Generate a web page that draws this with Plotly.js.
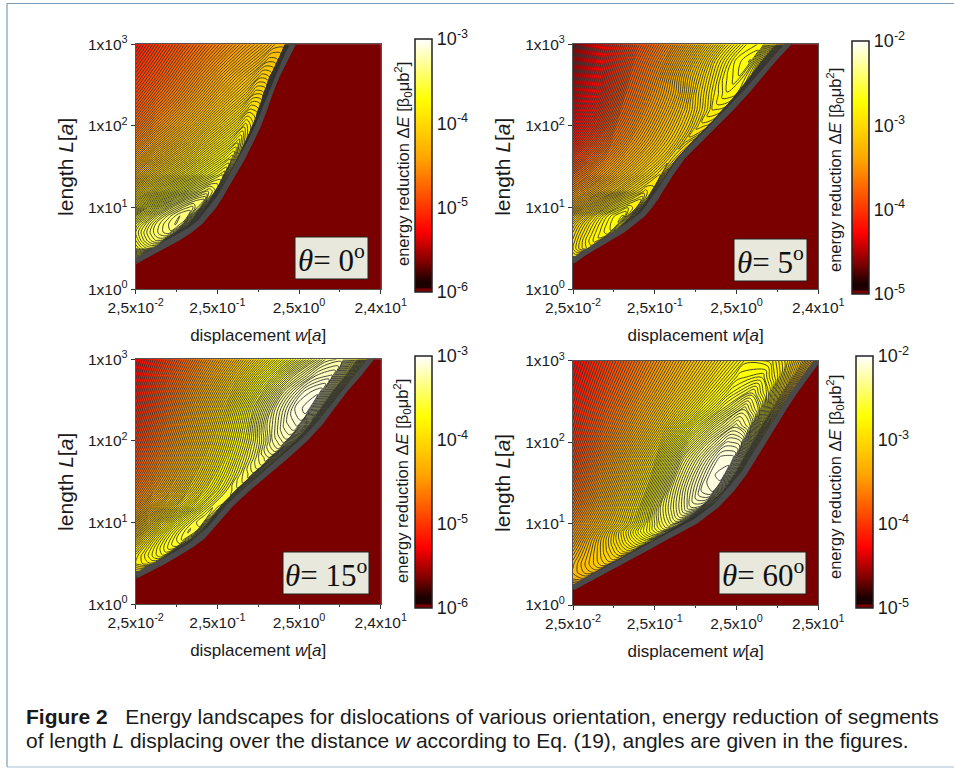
<!DOCTYPE html>
<html>
<head>
<meta charset="utf-8">
<script src="https://cdn.plot.ly/plotly-3.0.1.min.js"></script>
<style>html,body{margin:0;padding:0;background:#fff}</style>
</head>
<body>
<div id="chart" style="width:954px;height:769px"></div>
<script>
// Each table: one row per log10(L), one column per fraction of the way
// from the left border to the edge of the dark red region. Values are log10(energy reduction).
var colF = [0,0.15,0.3,0.45,0.6,0.7,0.8,0.87,0.93,0.97,1];
var colorStops = [[0,'#7a0000'],[0.012,'#7a0000'],[0.016,'#200000'],[0.04,'#1a0000'],[0.12,'#800000'],[0.24,'#ff0000'],[0.53,'#ffa500'],[0.76,'#ffff00'],[1,'#ffffff']];
var rowV = [0.32,0.4,0.5,0.6,0.7,0.8,0.9,1,1.1,1.2,1.4,1.6,1.8,2,2.2,2.4,2.6,2.8,3];
var rowV4 = [0.18,0.25,0.32,0.4,0.5,0.6,0.7,0.8,0.9,1,1.2,1.4,1.6,1.8,2,2.2,2.4,2.6,2.8,3];
var edgeU1 = [0.02,0.17,0.37,0.54,0.69,0.815,0.9,0.985,1.05,1.11,1.23,1.34,1.44,1.535,1.61,1.68,1.76,1.865,1.963];
var edgeU2 = [0.02,0.13,0.295,0.465,0.63,0.76,0.885,0.965,1.04,1.1,1.225,1.365,1.565,1.77,1.965,2.15,2.32,2.485,2.674];
var edgeU3 = [0.02,0.18,0.37,0.54,0.7,0.84,0.93,1.02,1.105,1.19,1.405,1.64,1.88,2.1,2.285,2.435,2.585,2.76,2.92];
var edgeU4 = [0.01,0.14,0.28,0.43,0.61,0.79,0.97,1.15,1.33,1.52,1.78,1.97,2.12,2.24,2.36,2.485,2.61,2.74,2.885,3.03];
var zP1 = [
[-3.95,-3.97,-3.99,-4.02,-4.06,-4.1,-4.15,-4.2,-4.25,-4.3,-4.4],
[-3.79,-3.785,-3.78,-3.835,-4.0,-4.17,-4.39,-4.58,-4.75,-4.88,-4.98],
[-3.62,-3.592,-3.569,-3.554,-3.57,-3.695,-3.934,-4.167,-4.413,-4.6,-4.75],
[-3.58,-3.529,-3.488,-3.459,-3.462,-3.576,-3.81,-4.05,-4.30,-4.49,-4.65],
[-3.56,-3.496,-3.444,-3.405,-3.385,-3.45,-3.67,-3.92,-4.19,-4.41,-4.585],
[-3.6,-3.52,-3.44,-3.39,-3.357,-3.39,-3.595,-3.847,-4.136,-4.364,-4.555],
[-3.7,-3.6,-3.49,-3.41,-3.36,-3.362,-3.54,-3.796,-4.1,-4.34,-4.55],
[-3.85,-3.7,-3.58,-3.48,-3.41,-3.39,-3.47,-3.71,-4.05,-4.34,-4.59],
[-3.95,-3.81,-3.69,-3.58,-3.49,-3.45,-3.44,-3.597,-3.957,-4.317,-4.65],
[-4.05,-3.92,-3.80,-3.69,-3.59,-3.54,-3.5,-3.531,-3.84,-4.27,-4.72],
[-4.25,-4.1,-3.98,-3.87,-3.76,-3.69,-3.63,-3.6,-3.82,-4.28,-4.8],
[-4.42,-4.26,-4.13,-4.01,-3.88,-3.80,-3.73,-3.682,-3.81,-4.29,-4.88],
[-4.57,-4.405,-4.27,-4.135,-3.99,-3.905,-3.825,-3.763,-3.85,-4.33,-4.96],
[-4.7,-4.535,-4.395,-4.25,-4.095,-4.005,-3.915,-3.845,-3.89,-4.36,-5.04],
[-4.81,-4.65,-4.505,-4.35,-4.195,-4.10,-4.01,-3.935,-3.95,-4.41,-5.13],
[-4.9,-4.75,-4.6,-4.44,-4.285,-4.19,-4.103,-4.025,-4.03,-4.47,-5.22],
[-4.98,-4.835,-4.675,-4.515,-4.36,-4.265,-4.18,-4.105,-4.12,-4.57,-5.3],
[-5.06,-4.905,-4.742,-4.585,-4.435,-4.343,-4.258,-4.187,-4.193,-4.63,-5.38],
[-5.14,-4.97,-4.806,-4.651,-4.505,-4.415,-4.332,-4.259,-4.252,-4.67,-5.45]
];
var zP2 = [
[-3.3,-3.32,-3.34,-3.37,-3.4,-3.44,-3.48,-3.52,-3.56,-3.6,-3.7],
[-3.0,-3.0,-3.0,-3.05,-3.21,-3.38,-3.6,-3.79,-3.97,-4.1,-4.2],
[-2.95,-2.917,-2.889,-2.865,-2.85,-2.914,-3.134,-3.383,-3.658,-3.872,-4.05],
[-2.97,-2.911,-2.859,-2.816,-2.785,-2.809,-3.008,-3.262,-3.554,-3.785,-3.98],
[-3.0,-2.924,-2.856,-2.797,-2.751,-2.731,-2.838,-3.086,-3.414,-3.691,-3.93],
[-3.05,-2.951,-2.863,-2.786,-2.726,-2.701,-2.814,-3.064,-3.39,-3.664,-3.9],
[-3.15,-3.03,-2.9,-2.79,-2.712,-2.696,-2.863,-3.116,-3.426,-3.678,-3.89],
[-3.3,-3.15,-3.01,-2.89,-2.797,-2.751,-2.794,-3.026,-3.369,-3.674,-3.94],
[-3.42,-3.27,-3.13,-3.0,-2.89,-2.837,-2.80,-2.925,-3.284,-3.654,-4.0],
[-3.52,-3.38,-3.25,-3.13,-3.0,-2.93,-2.865,-2.891,-3.22,-3.64,-4.06],
[-3.72,-3.58,-3.43,-3.28,-3.14,-3.05,-2.97,-2.922,-3.119,-3.587,-4.12],
[-3.95,-3.76,-3.56,-3.39,-3.23,-3.13,-3.04,-2.961,-3.018,-3.495,-4.15],
[-4.15,-3.91,-3.66,-3.45,-3.27,-3.15,-3.04,-2.942,-3.003,-3.48,-4.13],
[-4.3,-4.03,-3.72,-3.48,-3.265,-3.13,-3.0,-2.889,-2.907,-3.373,-4.07],
[-4.41,-4.11,-3.76,-3.49,-3.25,-3.09,-2.93,-2.822,-2.834,-3.296,-4.0],
[-4.49,-4.17,-3.78,-3.49,-3.22,-3.0,-2.83,-2.754,-2.764,-3.226,-3.93],
[-4.55,-4.2,-3.8,-3.485,-3.14,-2.94,-2.76,-2.702,-2.812,-3.294,-3.89],
[-4.6,-4.23,-3.825,-3.495,-3.13,-2.9,-2.72,-2.672,-2.893,-3.356,-3.87],
[-4.65,-4.26,-3.86,-3.525,-3.15,-2.92,-2.74,-2.716,-3.01,-3.45,-3.91]
];
var zP3 = [
[-4.3,-4.32,-4.34,-4.37,-4.4,-4.44,-4.48,-4.52,-4.56,-4.6,-4.7],
[-3.95,-3.95,-3.951,-4.02,-4.19,-4.36,-4.58,-4.76,-4.93,-5.05,-5.15],
[-3.85,-3.832,-3.816,-3.804,-3.82,-3.945,-4.183,-4.417,-4.663,-4.849,-5.0],
[-3.87,-3.816,-3.769,-3.729,-3.702,-3.743,-3.953,-4.205,-4.49,-4.714,-4.9],
[-3.95,-3.851,-3.764,-3.69,-3.634,-3.631,-3.805,-4.059,-4.364,-4.611,-4.82],
[-4.05,-3.912,-3.788,-3.682,-3.598,-3.562,-3.668,-3.916,-4.244,-4.521,-4.76],
[-4.18,-4.006,-3.85,-3.711,-3.6,-3.546,-3.573,-3.8,-4.147,-4.456,-4.73],
[-4.3,-4.10,-3.92,-3.77,-3.64,-3.56,-3.526,-3.71,-4.068,-4.409,-4.72],
[-4.41,-4.2,-4.02,-3.85,-3.69,-3.6,-3.533,-3.638,-3.997,-4.375,-4.73],
[-4.5,-4.3,-4.12,-3.93,-3.76,-3.65,-3.553,-3.582,-3.92,-4.333,-4.74],
[-4.65,-4.44,-4.23,-4.01,-3.81,-3.69,-3.57,-3.534,-3.845,-4.278,-4.72],
[-4.78,-4.53,-4.28,-4.03,-3.79,-3.645,-3.5,-3.454,-3.765,-4.198,-4.64],
[-4.88,-4.59,-4.3,-4.01,-3.735,-3.56,-3.4,-3.349,-3.667,-4.096,-4.53],
[-4.97,-4.64,-4.305,-3.98,-3.67,-3.47,-3.27,-3.21,-3.512,-3.949,-4.4],
[-5.05,-4.68,-4.315,-3.955,-3.6,-3.33,-3.16,-3.116,-3.43,-3.861,-4.3],
[-5.12,-4.725,-4.334,-3.953,-3.55,-3.28,-3.1,-3.054,-3.365,-3.798,-4.24],
[-5.18,-4.773,-4.374,-3.986,-3.58,-3.3,-3.115,-3.079,-3.397,-3.826,-4.26],
[-5.24,-4.826,-4.428,-4.037,-3.64,-3.38,-3.2,-3.17,-3.507,-3.92,-4.33],
[-5.3,-4.894,-4.495,-4.112,-3.742,-3.509,-3.291,-3.264,-3.603,-4.016,-4.42]
];
var zP4 = [
[-4.3,-4.32,-4.34,-4.36,-4.38,-4.4,-4.42,-4.44,-4.46,-4.48,-4.5],
[-3.38,-3.38,-3.38,-3.44,-3.61,-3.78,-4.0,-4.18,-4.36,-4.48,-4.58],
[-3.3,-3.292,-3.284,-3.282,-3.388,-3.551,-3.786,-3.995,-4.204,-4.356,-4.48],
[-3.27,-3.246,-3.225,-3.209,-3.202,-3.297,-3.528,-3.771,-4.033,-4.233,-4.4],
[-3.28,-3.228,-3.181,-3.141,-3.11,-3.101,-3.252,-3.507,-3.82,-4.08,-4.3],
[-3.32,-3.235,-3.158,-3.091,-3.036,-3.009,-3.035,-3.254,-3.605,-3.92,-4.2],
[-3.37,-3.245,-3.13,-3.029,-2.944,-2.899,-2.87,-3.006,-3.366,-3.73,-4.07],
[-3.43,-3.256,-3.098,-2.956,-2.836,-2.771,-2.726,-2.797,-3.15,-3.542,-3.92],
[-3.49,-3.29,-3.09,-2.89,-2.72,-2.63,-2.567,-2.634,-2.985,-3.381,-3.76],
[-3.55,-3.326,-3.106,-2.892,-2.65,-2.52,-2.43,-2.508,-2.862,-3.249,-3.62],
[-3.68,-3.393,-3.112,-2.839,-2.5,-2.36,-2.23,-2.236,-2.568,-2.985,-3.4],
[-3.78,-3.454,-3.134,-2.825,-2.44,-2.27,-2.12,-2.096,-2.41,-2.841,-3.28],
[-3.87,-3.517,-3.175,-2.838,-2.42,-2.24,-2.08,-2.063,-2.384,-2.81,-3.24],
[-3.95,-3.581,-3.222,-2.873,-2.44,-2.26,-2.09,-2.084,-2.415,-2.834,-3.25],
[-4.02,-3.652,-3.292,-2.943,-2.54,-2.33,-2.17,-2.194,-2.538,-2.943,-3.34],
[-4.08,-3.718,-3.365,-3.021,-2.65,-2.44,-2.285,-2.371,-2.727,-3.109,-3.47],
[-4.13,-3.775,-3.429,-3.092,-2.772,-2.571,-2.4,-2.53,-2.829,-3.126,-3.4],
[-4.18,-3.832,-3.492,-3.164,-2.85,-2.655,-2.542,-2.692,-2.958,-3.207,-3.43],
[-4.23,-3.882,-3.542,-3.214,-2.902,-2.712,-2.678,-2.832,-3.061,-3.262,-3.44],
[-4.28,-3.928,-3.586,-3.255,-2.945,-2.758,-2.788,-2.932,-3.125,-3.289,-3.43]
];
var xTickVals = [0.025,0.25,2.5,25];
var xMinorVals = [0.079,0.79,7.9];
var yTickVals = [1,10,100,1000];
var yTickText = ['1x10<sup>0</sup>','1x10<sup>1</sup>','1x10<sup>2</sup>','1x10<sup>3</sup>'];
var xTickText24 = ['2,5x10<sup>-2</sup>','2,5x10<sup>-1</sup>','2,5x10<sup>0</sup>','2,4x10<sup>1</sup>'];
var xTickText25 = ['2,5x10<sup>-2</sup>','2,5x10<sup>-1</sup>','2,5x10<sup>0</sup>','2,5x10<sup>1</sup>'];
var thetaLabels = ['0','5','15','60'];

var W=954,H=769,X0=Math.log10(0.025);
var px=function(x){return x/W;}, py=function(y){return 1-y/H;};
var panels=[
 {z:zP1,rows:rowV,eu:edgeU1,low:-6,box:[135.7,380.7,44.3,289.3],cb:[415,39,292],xt:xTickText24,tb:[295,368,237,279],ct:[403,164],th:0,step:0.02},
 {z:zP2,rows:rowV,eu:edgeU2,low:-5,box:[573,818.3,44.3,289.3],cb:[852,41,294],xt:xTickText24,tb:[734,807,239,281],ct:[835,170],th:1,step:0.025},
 {z:zP3,rows:rowV,eu:edgeU3,low:-6,box:[135.7,380.7,359.3,604.3],cb:[415,356,608],xt:xTickText24,tb:[283,369,552,594],ct:[402,481],th:2,step:0.025},
 {z:zP4,rows:rowV4,eu:edgeU4,low:-5,box:[573,818.3,360.7,605],cb:[856,356,608],xt:xTickText25,tb:[719,806,552,594],ct:[835,477],th:3,step:0.025}
];
var data=[],layout={width:W,height:H,margin:{l:0,r:0,t:0,b:0},paper_bgcolor:'#fff',plot_bgcolor:'#7a0000',
  font:{family:'"Liberation Sans",Arial,sans-serif',color:'#1a1a1a'},showlegend:false,annotations:[],
  shapes:[
   {type:'line',xref:'paper',yref:'paper',x0:px(7),x1:px(7),y0:py(3.5),y1:py(767),line:{color:'#7d9bb8',width:1.2}},
   {type:'line',xref:'paper',yref:'paper',x0:px(7),x1:1,y0:py(3.5),y1:py(3.5),line:{color:'#7d9bb8',width:1.2}},
   {type:'line',xref:'paper',yref:'paper',x0:px(7),x1:1,y0:py(767),y1:py(767),line:{color:'#a9c0d4',width:1.2}}
  ]};
var tickFont={size:15.5,color:'#1a1a1a'};
var hiddenAxis={showticklabels:'none',showline:false,startline:false,endline:false,showgrid:false,minorgridcount:0,smoothing:0,ticks:'',title:{text:''}};
panels.forEach(function(p,i){
  var n=i?String(i+1):'',cid='carpet'+i;
  var cx=p.rows.map(function(v,r){return colF.map(function(f){return X0+f*p.eu[r];});});
  var cy=p.rows.map(function(v){return colF.map(function(){return v;});});
  data.push({type:'carpet',carpet:cid,a:colF,b:p.rows,x:cx,y:cy,aaxis:hiddenAxis,baxis:hiddenAxis,xaxis:'x'+n,yaxis:'y'+n,hoverinfo:'skip'});
  data.push({type:'contourcarpet',carpet:cid,a:colF,b:p.rows,z:p.z,xaxis:'x'+n,yaxis:'y'+n,autocontour:false,
    contours:{coloring:'fill',showlines:true,start:p.low,end:p.low+3,size:p.step},
    line:{color:'#333',width:0.9,smoothing:1},colorscale:colorStops,zmin:p.low,zmax:p.low+3,showscale:false,hoverinfo:'skip'});
  var ex=p.eu.map(function(u){return X0+u;});
  data.push({type:'scatter',mode:'lines',x:ex,y:p.rows,xaxis:'x'+n,yaxis:'y'+n,line:{color:'#4a4a4a',width:11},hoverinfo:'skip'});
  data.push({type:'scatter',mode:'lines',x:ex.concat([X0+3.05,X0+3.05,X0]),y:p.rows.concat([3,0,0]),xaxis:'x'+n,yaxis:'y'+n,
    fill:'toself',fillcolor:'#7a0000',line:{width:0,color:'#7a0000'},hoverinfo:'skip'});
  data.push({type:'scatter',mode:'markers',x:[X0+2.9],y:[0.1],xaxis:'x'+n,yaxis:'y'+n,hoverinfo:'skip',
    marker:{size:1,opacity:0,color:[p.low],cmin:p.low,cmax:p.low+3,colorscale:colorStops,showscale:true,colorbar:{
    x:px(p.cb[0]),xanchor:'left',xpad:0,y:py(p.cb[2]),yanchor:'bottom',ypad:0,lenmode:'pixels',len:p.cb[2]-p.cb[1],
    thicknessmode:'pixels',thickness:17,outlinecolor:'#222',outlinewidth:1.5,ticks:'',tickmode:'array',
    tickvals:[p.low,p.low+1,p.low+2,p.low+3],
    ticktext:[p.low,p.low+1,p.low+2,p.low+3].map(function(v){return '10<sup>'+v+'</sup>';}),
    tickfont:{size:18,color:'#1a1a1a'}}}});
  layout['xaxis'+n]={type:'linear',domain:[px(p.box[0]),px(p.box[1])],anchor:'y'+n,range:[X0,X0+3],
    tickmode:'array',tickvals:xTickVals.map(Math.log10),ticktext:p.xt,tickfont:tickFont,ticks:'outside',ticklen:4,tickcolor:'#333',
    minor:{tickmode:'array',tickvals:xMinorVals.map(Math.log10),ticks:'outside',ticklen:2,tickcolor:'#333',showgrid:false},
    showline:true,mirror:true,linecolor:'#555',linewidth:1,showgrid:false,zeroline:false,
    title:{text:'displacement <i>w</i>[<i>a</i>]',font:{size:17},standoff:14}};
  layout['yaxis'+n]={type:'linear',domain:[py(p.box[3]),py(p.box[2])],anchor:'x'+n,range:[0,3],
    tickmode:'array',tickvals:yTickVals.map(Math.log10),ticktext:yTickText,tickfont:tickFont,ticks:'outside',ticklen:4,tickcolor:'#333',
    showline:true,mirror:true,linecolor:'#555',linewidth:1,showgrid:false,zeroline:false,
    title:{text:'length <i>L</i>[<i>a</i>]',font:{size:21},standoff:8}};
  layout.annotations.push({xref:'paper',yref:'paper',x:px(p.ct[0]),y:py(p.ct[1]),xanchor:'center',yanchor:'middle',textangle:-90,showarrow:false,
    text:'energy reduction Δ<i>E</i> [β<sub>0</sub>μb<sup>2</sup>]',font:{size:16.5}});
  layout.shapes.push({type:'rect',xref:'paper',yref:'paper',x0:px(p.tb[0]),x1:px(p.tb[1]),y0:py(p.tb[3]),y1:py(p.tb[2]),
    fillcolor:'#e8e8dc',line:{color:'#222',width:1},layer:'above'});
  layout.annotations.push({xref:'paper',yref:'paper',x:px((p.tb[0]+p.tb[1])/2),y:py((p.tb[2]+p.tb[3])/2),xanchor:'center',yanchor:'middle',showarrow:false,
    text:'<i>θ</i>= '+thetaLabels[p.th]+'<sup>o</sup>',font:{family:'"Liberation Serif",serif',size:31,color:'#111'}});
});
layout.annotations.push({xref:'paper',yref:'paper',x:px(24),y:py(716),xanchor:'left',yanchor:'middle',showarrow:false,
  text:'<b>Figure 2</b>   Energy landscapes for dislocations of various orientation, energy reduction of segments',font:{size:21}});
layout.annotations.push({xref:'paper',yref:'paper',x:px(24),y:py(740),xanchor:'left',yanchor:'middle',showarrow:false,
  text:'of length <i>L</i> displacing over the distance <i>w</i> according to Eq. (19), angles are given in the figures.',font:{size:21}});
Plotly.newPlot('chart',data,layout,{displayModeBar:false,staticPlot:true});
</script>
</body>
</html>
